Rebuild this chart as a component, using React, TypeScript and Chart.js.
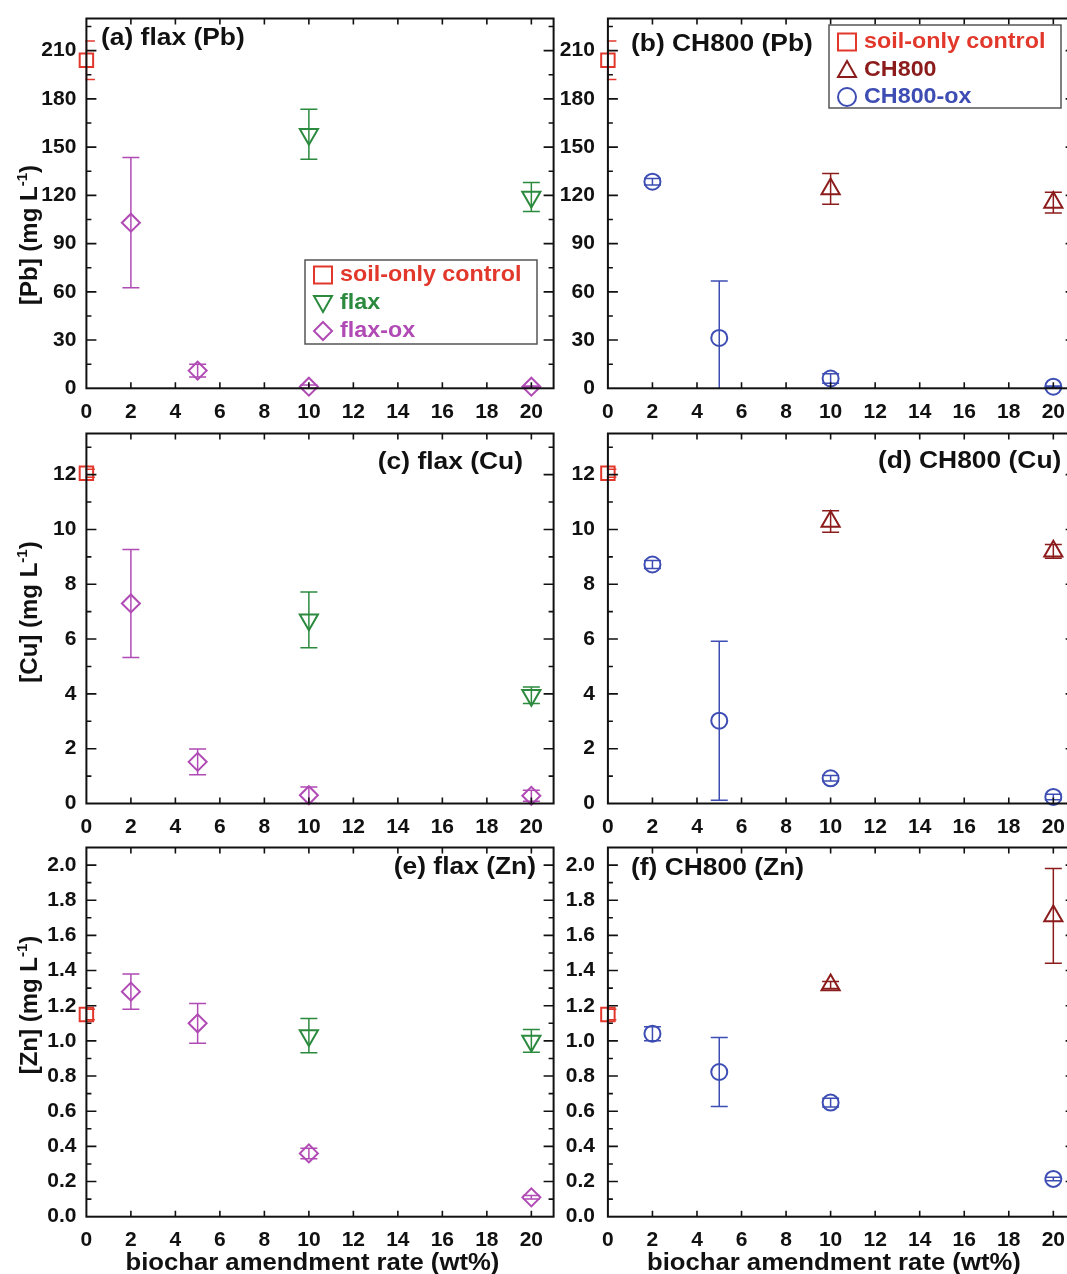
import React, { useEffect, useRef } from 'react';
import { Chart, registerables } from 'chart.js';

Chart.register(...registerables);

const FONT = '"Liberation Sans", Arial, Helvetica, sans-serif';

// ---------------- data ----------------
const rateTicks = [0, 2, 4, 6, 8, 10, 12, 14, 16, 18, 20];
const pbTicks = [0, 30, 60, 90, 120, 150, 180, 210];
const cuTicks = [0, 2, 4, 6, 8, 10, 12];
const znTicks = [0, 0.2, 0.4, 0.6, 0.8, 1.0, 1.2, 1.4, 1.6, 1.8, 2.0];

const controlX = [0];
const flaxX = [10, 20];
const flaxOxX = [2, 5, 10, 20];
const ch800X = [10, 20];
const ch800OxX = [2, 5, 10, 20];

// Pb (mg/L)
const controlPb = [204];
const controlPbErr = [12];
const flaxPb = [158, 119];
const flaxPbErr = [15.5, 9];
const flaxOxPb = [103, 11, 1, 1];
const flaxOxPbErr = [40.5, 4, 1, 0.5];
const ch800Pb = [124, 115.5];
const ch800PbErr = [9.6, 6.5];
const ch800OxPb = [128.5, 31.3, 6.1, 1];
const ch800OxPbErr = [2, 35.5, 3, 0.5];

// Cu (mg/L)
const controlCu = [12.05];
const controlCuErr = [0.15];
const flaxCu = [6.7, 3.95];
const flaxCuErr = [1.02, 0.3];
const flaxOxCu = [7.3, 1.52, 0.3, 0.28];
const flaxOxCuErr = [1.97, 0.47, 0.3, 0.2];
const ch800Cu = [10.29, 9.2];
const ch800CuErr = [0.39, 0.25];
const ch800OxCu = [8.72, 3.02, 0.92, 0.24];
const ch800OxCuErr = [0.15, 2.9, 0.1, 0.1];

// Zn (mg/L)
const controlZn = [1.15];
const controlZnErr = [0.03];
const flaxZn = [1.03, 1.0];
const flaxZnErr = [0.097, 0.065];
const flaxOxZn = [1.28, 1.1, 0.36, 0.11];
const flaxOxZnErr = [0.1, 0.113, 0.03, 0.01];
const ch800Zn = [1.318, 1.711];
const ch800ZnErr = [0.02, 0.27];
const ch800OxZn = [1.041, 0.823, 0.649, 0.215];
const ch800OxZnErr = [0.04, 0.196, 0.025, 0.01];

// ---------------- styles ----------------
const RED = '#e2382c';
const GREEN = '#2b8a3e';
const MAGENTA = '#b04ab4';
const DARKRED = '#8c1c1c';
const BLUE = '#3d4db3';

type Series = {
  label: string;
  x: number[];
  y: number[];
  err: number[];
  color: string;
  style: string;
  rotation?: number;
  radius: number;
  shape: string;
};

const S = {
  control: (y: number[], e: number[]): Series => ({ label: 'soil-only control', x: controlX, y, err: e, color: RED, style: 'rect', radius: 9.5, shape: 'square' }),
  flax: (y: number[], e: number[]): Series => ({ label: 'flax', x: flaxX, y, err: e, color: GREEN, style: 'triangle', rotation: 180, radius: 10.5, shape: 'down' }),
  flaxOx: (y: number[], e: number[]): Series => ({ label: 'flax-ox', x: flaxOxX, y, err: e, color: MAGENTA, style: 'rectRot', radius: 9, shape: 'diamond' }),
  ch800: (y: number[], e: number[]): Series => ({ label: 'CH800', x: ch800X, y, err: e, color: DARKRED, style: 'triangle', radius: 10.5, shape: 'up' }),
  ch800Ox: (y: number[], e: number[]): Series => ({ label: 'CH800-ox', x: ch800OxX, y, err: e, color: BLUE, style: 'circle', radius: 8, shape: 'circle' }),
};

const cols = [
  { canvasLeft: 0, width: 575, plotLeft: 86.4, plotRight: 553.6, tickPad: 10 },
  { canvasLeft: 545, width: 545, plotLeft: 607.9, plotRight: 1075.6, tickPad: 13 },
];
const rows = [
  { plotTop: 14, plotBottom: 388.3, extra: 40 },
  { plotTop: 429.5, plotBottom: 803.5, extra: 40 },
  { plotTop: 843.3, plotBottom: 1216.7, extra: 64 },
];

type Panel = {
  col: number;
  row: number;
  yMax: number;
  yTicks: number[];
  minorStep: number;
  decimals: number;
  yTitle?: string;
  yTitleY?: number;
  title: string;
  titleX: number;
  titleY: number;
  titleAlign: 'left' | 'right';
  legend?: { x: number; y: number; w: number; h: number; rows: number[] };
  series: Series[];
  xTitle?: boolean;
};

const panels: Panel[] = [
  {
    col: 0, row: 0, yMax: 230, yTicks: pbTicks, minorStep: 15, decimals: 0,
    yTitle: '[Pb] (mg L', yTitleY: 235,
    title: '(a) flax (Pb)', titleX: 101, titleY: 38, titleAlign: 'left',
    legend: { x: 305, y: 260, w: 232, h: 84, rows: [275, 303, 331] },
    series: [S.control(controlPb, controlPbErr), S.flax(flaxPb, flaxPbErr), S.flaxOx(flaxOxPb, flaxOxPbErr)],
  },
  {
    col: 1, row: 0, yMax: 230, yTicks: pbTicks, minorStep: 15, decimals: 0,
    title: '(b) CH800 (Pb)', titleX: 631, titleY: 44, titleAlign: 'left',
    legend: { x: 829, y: 25, w: 232, h: 83, rows: [42, 70, 97] },
    series: [S.control(controlPb, controlPbErr), S.ch800(ch800Pb, ch800PbErr), S.ch800Ox(ch800OxPb, ch800OxPbErr)],
  },
  {
    col: 0, row: 1, yMax: 13.5, yTicks: cuTicks, minorStep: 1, decimals: 0,
    yTitle: '[Cu] (mg L', yTitleY: 612,
    title: '(c) flax (Cu)', titleX: 523, titleY: 462, titleAlign: 'right',
    series: [S.control(controlCu, controlCuErr), S.flax(flaxCu, flaxCuErr), S.flaxOx(flaxOxCu, flaxOxCuErr)],
  },
  {
    col: 1, row: 1, yMax: 13.5, yTicks: cuTicks, minorStep: 1, decimals: 0,
    title: '(d) CH800 (Cu)', titleX: 878, titleY: 461, titleAlign: 'left',
    series: [S.control(controlCu, controlCuErr), S.ch800(ch800Cu, ch800CuErr), S.ch800Ox(ch800OxCu, ch800OxCuErr)],
  },
  {
    col: 0, row: 2, yMax: 2.1, yTicks: znTicks, minorStep: 0.1, decimals: 1,
    yTitle: '[Zn] (mg L', yTitleY: 1005,
    title: '(e) flax (Zn)', titleX: 536, titleY: 867, titleAlign: 'right',
    series: [S.control(controlZn, controlZnErr), S.flax(flaxZn, flaxZnErr), S.flaxOx(flaxOxZn, flaxOxZnErr)],
    xTitle: true,
  },
  {
    col: 1, row: 2, yMax: 2.1, yTicks: znTicks, minorStep: 0.1, decimals: 1,
    title: '(f) CH800 (Zn)', titleX: 631, titleY: 868, titleAlign: 'left',
    series: [S.control(controlZn, controlZnErr), S.ch800(ch800Zn, ch800ZnErr), S.ch800Ox(ch800OxZn, ch800OxZnErr)],
    xTitle: true,
  },
];

function drawText(ctx: CanvasRenderingContext2D, s: string, x: number, y: number, size: number, color: string, align: CanvasTextAlign, sx: number) {
  ctx.save();
  ctx.translate(x, y);
  ctx.scale(sx, 1);
  ctx.font = `bold ${size}px ${FONT}`;
  ctx.fillStyle = color;
  ctx.textAlign = align;
  ctx.textBaseline = 'middle';
  ctx.fillText(s, 0, 0);
  ctx.restore();
}

function drawShape(ctx: CanvasRenderingContext2D, shape: string, cx: number, cy: number, color: string) {
  ctx.save();
  ctx.strokeStyle = color;
  ctx.lineWidth = 2;
  ctx.beginPath();
  if (shape === 'square') {
    ctx.rect(cx - 9, cy - 8.5, 18, 17);
  } else if (shape === 'down') {
    ctx.moveTo(cx - 9, cy - 7);
    ctx.lineTo(cx + 9, cy - 7);
    ctx.lineTo(cx, cy + 9);
    ctx.closePath();
  } else if (shape === 'up') {
    ctx.moveTo(cx, cy - 9);
    ctx.lineTo(cx + 9, cy + 7);
    ctx.lineTo(cx - 9, cy + 7);
    ctx.closePath();
  } else if (shape === 'diamond') {
    ctx.moveTo(cx, cy - 9);
    ctx.lineTo(cx + 9, cy);
    ctx.lineTo(cx, cy + 9);
    ctx.lineTo(cx - 9, cy);
    ctx.closePath();
  } else {
    ctx.arc(cx, cy, 9, 0, Math.PI * 2);
  }
  ctx.stroke();
  ctx.restore();
}

function makePlugin(p: Panel, ox: number, oy: number) {
  return {
    id: 'panelDeco' + p.col + p.row,
    beforeDatasetsDraw(chart: any) {
      const ctx: CanvasRenderingContext2D = chart.ctx;
      const a = chart.chartArea;
      const ys = chart.scales.y;
      ctx.save();
      ctx.beginPath();
      ctx.rect(a.left - 1, a.top, a.right - a.left + 2, a.bottom - a.top);
      ctx.clip();
      p.series.forEach((s, di) => {
        const meta = chart.getDatasetMeta(di);
        ctx.strokeStyle = s.color;
        ctx.lineWidth = 1.5;
        meta.data.forEach((pt: any, i: number) => {
          const e = s.err[i];
          if (!e) return;
          const y1 = ys.getPixelForValue(s.y[i] + e);
          const y2 = ys.getPixelForValue(s.y[i] - e);
          const x = pt.x;
          ctx.beginPath();
          ctx.moveTo(x, y1);
          ctx.lineTo(x, y2);
          ctx.moveTo(x - 8.5, y1);
          ctx.lineTo(x + 8.5, y1);
          ctx.moveTo(x - 8.5, y2);
          ctx.lineTo(x + 8.5, y2);
          ctx.stroke();
        });
      });
      ctx.restore();
    },
    afterDraw(chart: any) {
      const ctx: CanvasRenderingContext2D = chart.ctx;
      const a = chart.chartArea;
      const xs = chart.scales.x;
      const ys = chart.scales.y;
      ctx.save();
      // frame
      ctx.strokeStyle = '#111';
      ctx.lineWidth = 2;
      ctx.strokeRect(a.left, a.top, a.right - a.left, a.bottom - a.top);
      // y ticks (inward, both sides)
      ctx.lineWidth = 1.6;
      ctx.beginPath();
      for (const t of ys.ticks) {
        const y = ys.getPixelForValue(t.value);
        if (y <= a.top + 1 || y >= a.bottom - 1) continue;
        ctx.moveTo(a.left, y); ctx.lineTo(a.left + 10, y);
        ctx.moveTo(a.right, y); ctx.lineTo(a.right - 10, y);
      }
      for (let k = 0; ; k++) {
        const v = p.minorStep * (2 * k + 1);
        if (v >= p.yMax) break;
        const y = ys.getPixelForValue(v);
        ctx.moveTo(a.left, y); ctx.lineTo(a.left + 5, y);
        ctx.moveTo(a.right, y); ctx.lineTo(a.right - 5, y);
      }
      // x ticks (inward, top and bottom)
      for (const t of xs.ticks) {
        const x = xs.getPixelForValue(t.value);
        if (x <= a.left + 1 || x >= a.right - 1) continue;
        ctx.moveTo(x, a.bottom); ctx.lineTo(x, a.bottom - 6);
        ctx.moveTo(x, a.top); ctx.lineTo(x, a.top + 6);
      }
      ctx.stroke();
      ctx.restore();

      // panel title
      drawText(ctx, p.title, p.titleX - ox, p.titleY - oy, 24, '#111', p.titleAlign, 1.1);

      // legend
      if (p.legend) {
        const L = p.legend;
        ctx.save();
        ctx.strokeStyle = '#555';
        ctx.lineWidth = 1.5;
        ctx.fillStyle = '#fff';
        ctx.fillRect(L.x - ox, L.y - oy, L.w, L.h);
        ctx.strokeRect(L.x - ox, L.y - oy, L.w, L.h);
        ctx.restore();
        p.series.forEach((s, i) => {
          const cy = L.rows[i] - oy;
          drawShape(ctx, s.shape, L.x - ox + 18, cy, s.color);
          drawText(ctx, s.label, L.x - ox + 35, cy, 22, s.color, 'left', 1.06);
        });
      }

      // y title with superscript
      if (p.yTitle) {
        ctx.save();
        ctx.translate(29 - ox, (p.yTitleY as number) - oy);
        ctx.rotate(-Math.PI / 2);
        const f1 = `bold 24px ${FONT}`;
        const f2 = `bold 15px ${FONT}`;
        ctx.font = f1;
        const w1 = ctx.measureText(p.yTitle).width;
        const w3 = ctx.measureText(')').width;
        ctx.font = f2;
        const w2 = ctx.measureText('-1').width;
        let sx = -(w1 + w2 + w3) / 2;
        const base = 8;
        ctx.fillStyle = '#111';
        ctx.textAlign = 'left';
        ctx.textBaseline = 'alphabetic';
        ctx.font = f1; ctx.fillText(p.yTitle, sx, base); sx += w1;
        ctx.font = f2; ctx.fillText('-1', sx, base - 10); sx += w2;
        ctx.font = f1; ctx.fillText(')', sx, base);
        ctx.restore();
      }

      // x title
      if (p.xTitle) {
        drawText(ctx, 'biochar amendment rate (wt%)', a.left + 226, 1263 - oy, 24, '#111', 'center', 1.07);
      }
    },
  };
}

function PanelChart({ p }: { p: Panel }) {
  const ref = useRef<HTMLCanvasElement>(null);
  const c = cols[p.col];
  const r = rows[p.row];
  const canvasTop = Math.floor(r.plotTop) - 8;
  const padTop = r.plotTop - canvasTop;
  const plotH = r.plotBottom - r.plotTop;
  const H = Math.ceil(padTop + plotH + r.extra);
  const xAxisH = H - padTop - plotH;
  const yAxisW = c.plotLeft - c.canvasLeft;
  const padRight = c.canvasLeft + c.width - c.plotRight;

  useEffect(() => {
    const canvas = ref.current;
    if (!canvas) return;
    const chart = new Chart(canvas, {
      type: 'scatter',
      data: {
        datasets: p.series.map((s) => ({
          label: s.label,
          data: s.x.map((x, i) => ({ x, y: s.y[i] })),
          pointStyle: s.style as any,
          rotation: s.rotation || 0,
          pointRadius: s.radius,
          pointBorderWidth: 2,
          pointBorderColor: s.color,
          pointBackgroundColor: 'rgba(0,0,0,0)',
          borderColor: s.color,
          backgroundColor: 'rgba(0,0,0,0)',
          showLine: false,
          clip: false as any,
        })),
      },
      options: {
        responsive: false,
        animation: false,
        devicePixelRatio: 1,
        events: [],
        layout: { padding: { top: padTop, right: padRight, left: 0, bottom: 0 } },
        plugins: { legend: { display: false }, tooltip: { enabled: false } },
        scales: {
          x: {
            type: 'linear',
            min: 0,
            max: 21,
            grid: { display: false, drawTicks: false },
            border: { display: false },
            afterBuildTicks: (s: any) => { s.ticks = rateTicks.map((v) => ({ value: v })); },
            ticks: {
              color: '#111',
              font: { family: FONT, size: 21, weight: 'bold' },
              padding: 11,
              autoSkip: false,
              maxRotation: 0,
              callback: (v: any) => String(v),
            },
            afterFit: (s: any) => { s.height = xAxisH; s.paddingLeft = 0; s.paddingRight = 0; },
          },
          y: {
            type: 'linear',
            min: 0,
            max: p.yMax,
            grid: { display: false, drawTicks: false },
            border: { display: false },
            afterBuildTicks: (s: any) => { s.ticks = p.yTicks.map((v) => ({ value: v })); },
            ticks: {
              color: '#111',
              font: { family: FONT, size: 21, weight: 'bold' },
              padding: c.tickPad,
              autoSkip: false,
              callback: (v: any) => Number(v).toFixed(p.decimals),
            },
            afterFit: (s: any) => { s.width = yAxisW; s.paddingTop = 0; s.paddingBottom = 0; },
          },
        },
      } as any,
      plugins: [makePlugin(p, c.canvasLeft, canvasTop)],
    });
    return () => chart.destroy();
  }, []);

  return (
    <canvas
      ref={ref}
      width={c.width}
      height={H}
      style={{ position: 'absolute', left: c.canvasLeft, top: canvasTop, width: c.width, height: H }}
    />
  );
}

export default function App() {
  return (
    <div style={{ position: 'absolute', left: 0, top: 0, width: 1067, height: 1274, overflow: 'hidden', background: '#fff' }}>
      {panels.map((p, i) => (
        <PanelChart key={i} p={p} />
      ))}
    </div>
  );
}
